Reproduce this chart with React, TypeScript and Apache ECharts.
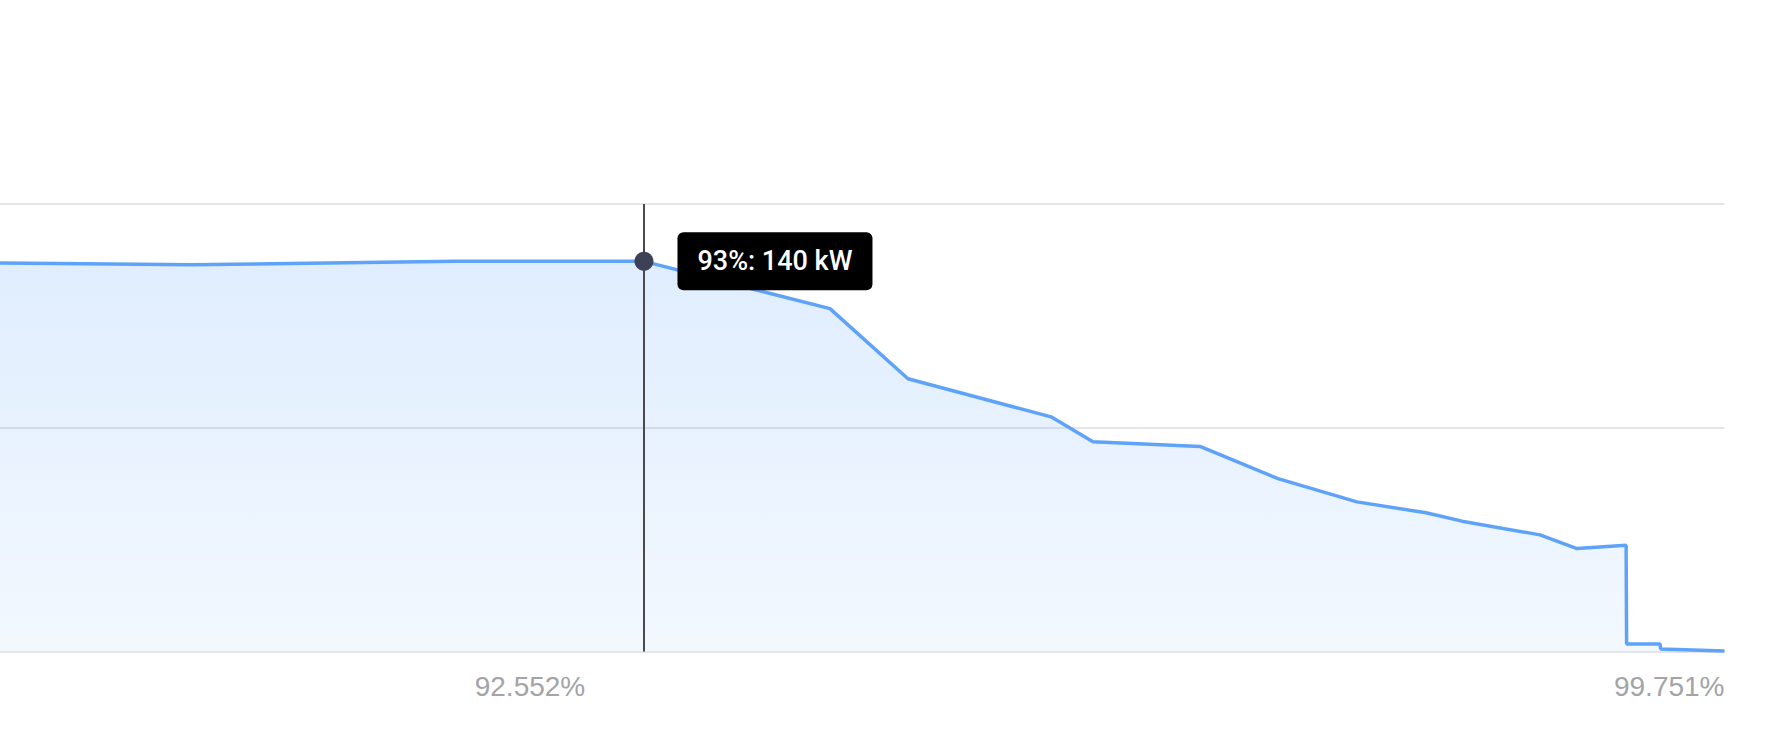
import React, { useEffect, useRef } from "react";
import * as echarts from "echarts";

// Load duration curve (share of time, %) vs power (kW)
const percentValues: number[] = [
  89.3, 90.515, 92.106, 93.239, 94.36, 94.83, 95.692, 95.945, 96.59, 97.06,
  97.536, 97.952, 98.169, 98.639, 98.862, 99.158, 99.161, 99.363, 99.366, 99.751,
];
const powerKw: number[] = [
  138.9, 138.3, 139.5, 139.5, 122.6, 97.5, 83.9, 75.0, 73.3, 61.8,
  53.5, 49.6, 46.6, 41.7, 36.8, 38.0, 2.7, 2.7, 0.9, 0.2,
];
const xAxisMin = 89.358;
const xAxisMax = 99.751;
const xTickLabels: number[] = [92.552, 99.751];
const yTicks: number[] = [0, 80, 160];
const hoverIndex = 3;

export default function App() {
  const ref = useRef<HTMLDivElement>(null);

  useEffect(() => {
    if (!ref.current) return;
    const chart = echarts.init(ref.current, undefined, { renderer: "svg" });
    const data = percentValues.map((p, i) => [p, powerKw[i]]);
    const hoverText = `${Math.round(percentValues[hoverIndex])}%: ${Math.round(
      powerKw[hoverIndex]
    )} kW`;

    chart.setOption({
      animation: false,
      textStyle: { fontFamily: "Liberation Sans, Arial, sans-serif" },
      grid: { left: 0, right: 64.5, top: 204, bottom: 94.5, containLabel: false },
      xAxis: {
        type: "value",
        min: xAxisMin,
        max: xAxisMax,
        axisLine: { show: false },
        axisTick: { show: false },
        splitLine: { show: false },
        axisLabel: {
          customValues: xTickLabels,
          alignMaxLabel: "right",
          color: "#a3a3a8",
          fontSize: 28,
          margin: 21,
          formatter: (v: number) => `${v.toFixed(3)}%`,
        },
      },
      yAxis: {
        type: "value",
        min: yTicks[0],
        max: yTicks[yTicks.length - 1],
        interval: yTicks[1] - yTicks[0],
        axisLine: { show: false },
        axisTick: { show: false },
        axisLabel: { show: false },
        splitLine: { show: true, lineStyle: { color: "#e6e6ea", width: 2 } },
      },
      series: [
        {
          type: "line",
          data,
          showSymbol: false,
          symbol: "none",
          smooth: false,
          clip: true,
          lineStyle: { color: "#5ea3f9", width: 3.5 },
          areaStyle: {
            color: new echarts.graphic.LinearGradient(0, 0, 0, 1, [
              { offset: 0, color: "rgba(96,165,250,0.28)" },
              { offset: 1, color: "rgba(96,165,250,0.11)" },
            ]),
          },
          markLine: {
            silent: true,
            symbol: ["none", "none"],
            label: { show: false },
            lineStyle: { color: "#4a4a4e", width: 2, type: "solid" },
            data: [{ xAxis: percentValues[hoverIndex] }],
          },
          markPoint: {
            silent: true,
            symbol: "circle",
            symbolSize: 19,
            itemStyle: { color: "#3d4157" },
            label: {
              show: true,
              position: "right",
              distance: 24,
              formatter: () => hoverText,
              color: "#ffffff",
              fontFamily: "Roboto, Liberation Sans, sans-serif",
              fontSize: 27,
              fontWeight: 500,
              lineHeight: 26,
              backgroundColor: "#000000",
              borderRadius: 6,
              padding: [16, 20],
            },
            data: [{ coord: [percentValues[hoverIndex], powerKw[hoverIndex]] }],
          },
        },
      ],
    });

    return () => chart.dispose();
  }, []);

  return (
    <div
      ref={ref}
      style={{ position: "absolute", left: 0, top: 0, width: "1789px", height: "746px" }}
    />
  );
}
